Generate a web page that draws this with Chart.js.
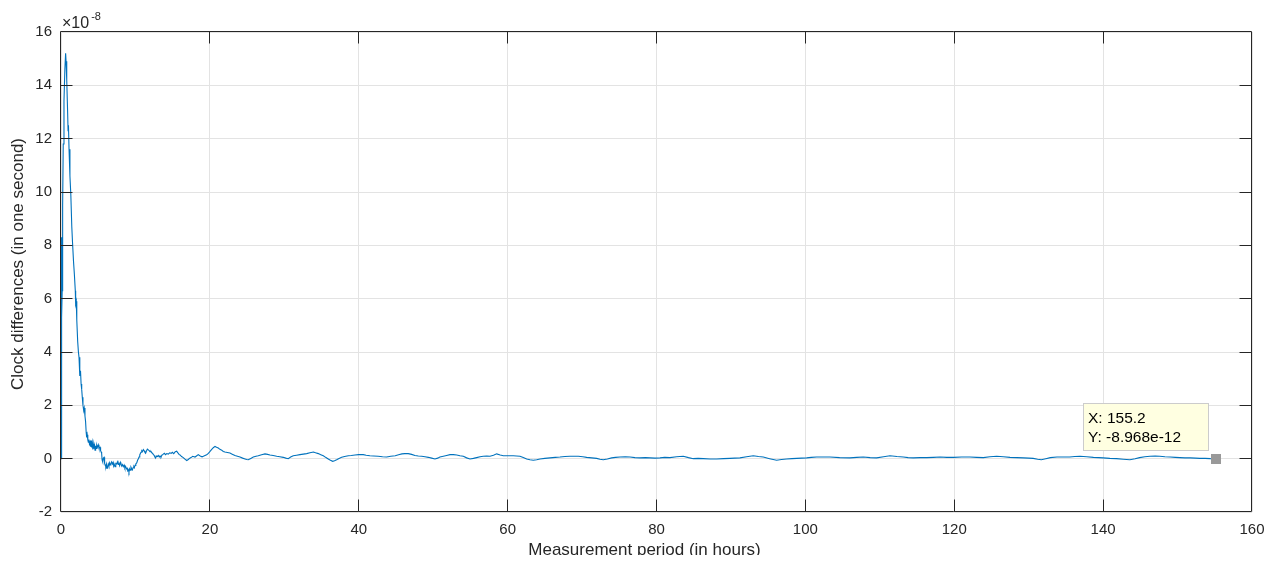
<!DOCTYPE html>
<html>
<head>
<meta charset="utf-8">
<title>Clock differences</title>
<script src="https://cdn.jsdelivr.net/npm/chart.js@4.4.1/dist/chart.umd.min.js"></script>
<style>
  html, body { margin: 0; padding: 0; background: #ffffff; }
  #wrap { width: 1280px; height: 555px; overflow: hidden; position: relative; background: #ffffff; }
  canvas { display: block; }
</style>
</head>
<body>
<div id="wrap"><canvas id="chart" width="1280" height="565"></canvas></div>
<script>
// Measurement time in hours
const hours = [
  0, 0.04, 0.08, 0.12, 0.16, 0.22, 0.3, 0.4, 0.52, 0.62, 0.68, 0.74, 0.8, 0.88, 0.95, 1.0, 1.08, 1.2, 1.32, 1.45,
  1.55, 1.68, 1.8, 1.92, 1.97, 2.05, 2.12, 2.24, 2.34, 2.42, 2.5, 2.55, 2.62, 2.7, 2.78, 2.86, 2.95, 3.05, 3.12, 3.22,
  3.3, 3.38, 3.45, 3.52, 3.6, 3.67, 3.75, 3.82, 3.9, 3.97, 4.05, 4.12, 4.2, 4.28, 4.34, 4.42, 4.5, 4.57, 4.65, 4.72,
  4.8, 4.88, 5.01, 5.1, 5.24, 5.32, 5.4, 5.46, 5.52, 5.6, 5.68, 5.78, 5.86, 5.94, 6.02, 6.1, 6.18, 6.27, 6.35, 6.44,
  6.52, 6.6, 6.7, 6.8, 6.9, 7.0, 7.08, 7.16, 7.26, 7.36, 7.48, 7.58, 7.68, 7.79, 7.88, 7.98, 8.06, 8.16, 8.26, 8.37,
  8.48, 8.58, 8.69, 8.8, 8.9, 8.96, 9.05, 9.13, 9.22, 9.3, 9.4, 9.5, 9.58, 9.68, 9.78, 9.85, 9.95, 10.05, 10.17, 10.3,
  10.4, 10.48, 10.58, 10.68, 10.75, 10.85, 10.95, 11.06, 11.16, 11.28, 11.38, 11.5, 11.6, 11.73, 11.85, 11.96, 12.09, 12.2, 12.3, 12.4,
  12.52, 12.62, 12.72, 12.84, 12.96, 13.07, 13.2, 13.3, 13.43, 13.55, 13.7, 13.88, 14.05, 14.2, 14.41, 14.6, 14.8, 14.95, 15.15, 15.35,
  15.54, 15.7, 15.85, 15.99, 16.2, 16.43, 16.65, 16.89, 17.1, 17.3, 17.46, 17.7, 18.0, 18.2, 18.44, 18.7, 18.95, 19.12, 19.35, 19.57,
  19.8, 20.02, 20.25, 20.46, 20.69, 20.9, 21.13, 21.35, 21.59, 21.8, 22.03, 22.35, 22.7, 23.0, 23.37, 23.7, 24.05, 24.4, 24.72, 24.95,
  25.16, 25.5, 25.83, 26.2, 26.5, 26.95, 27.4, 27.75, 28.08, 28.5, 28.98, 29.4, 29.86, 30.2, 30.53, 30.85, 31.2, 31.65, 32.1, 32.55,
  33.0, 33.45, 33.9, 34.2, 34.57, 34.9, 35.24, 35.55, 35.9, 36.2, 36.5, 36.75, 37.03, 37.35, 37.7, 38.1, 38.6, 39.0, 39.5, 40.0,
  40.6, 41.0, 41.5, 42.0, 42.6, 43.2, 43.75, 44.3, 44.9, 45.35, 45.8, 46.2, 46.65, 47.1, 47.55, 48.0, 48.45, 48.9, 49.35, 49.8,
  50.24, 50.6, 50.9, 51.36, 51.8, 52.26, 52.7, 53.16, 53.6, 54.05, 54.5, 54.94, 55.4, 55.84, 56.3, 56.73, 57.2, 57.63, 58.1, 58.53,
  59.0, 59.42, 60.1, 60.76, 61.2, 61.66, 62.1, 62.56, 63.0, 63.45, 63.9, 64.35, 65.0, 65.69, 66.4, 67.03, 67.7, 68.38, 69.0, 69.5,
  70.1, 70.62, 71.3, 71.96, 72.4, 72.85, 73.4, 73.98, 74.5, 75.1, 75.8, 76.44, 77.1, 77.78, 78.5, 79.13, 79.8, 80.47, 81.1, 81.81,
  82.7, 83.6, 84.3, 84.94, 85.6, 86.28, 87.2, 88.08, 89.0, 89.87, 90.5, 91.21, 92.1, 93.0, 93.7, 94.34, 95.2, 96.14, 96.8, 97.48,
  98.2, 98.83, 99.5, 100.17, 100.8, 101.51, 102.4, 103.3, 104.6, 105.99, 106.9, 107.78, 108.7, 109.57, 110.5, 111.37, 112.3, 113.16, 113.8, 114.5,
  115.4, 116.3, 117.2, 118.1, 119.0, 119.9, 121.0, 122.1, 123.0, 123.9, 124.8, 125.7, 126.6, 127.5, 128.4, 129.3, 130.0, 130.6, 131.2, 131.7,
  132.3, 132.9, 133.8, 134.7, 135.5, 136.2, 136.9, 137.8, 138.7, 139.4, 140.0, 140.9, 141.8, 142.7, 143.6, 144.3, 144.9, 145.6, 146.3, 147.0,
  147.6, 148.3, 149.0, 149.7, 150.3, 151.0, 151.7, 152.4, 153.0, 153.7, 154.4, 155.2
];

// Clock difference accumulated in one second, in units of 1e-8 s
const clockDiff = [
  0, 2.6, 8.3, 5.3, 6.3, 9.5, 11.8, 13.4, 14.6, 15.2, 14.9, 14.3, 14.2, 13.1, 12.3, 12.5, 11.6, 10.6, 9.9, 8.7,
  8.1, 7.4, 6.9, 6.3, 5.8, 5.9, 5.2, 4.4, 4.0, 3.8, 3.4, 3.1, 3.3, 2.8, 2.6, 2.3, 2.0, 1.8, 1.9, 1.6,
  1.4, 1.0, 0.8, 0.9, 0.7, 0.62, 0.72, 0.55, 0.62, 0.45, 0.68, 0.42, 0.6, 0.35, 0.55, 0.38, 0.5, 0.32, 0.48, 0.38,
  0.5, 0.42, 0.52, 0.4, 0.43, 0.3, 0.25, 0.2, -0.05, -0.12, 0.02, 0.05, -0.18, -0.25, -0.3, -0.2, -0.36, -0.3, -0.2, -0.28,
  -0.16, -0.24, -0.18, -0.12, -0.2, -0.14, -0.27, -0.22, -0.3, -0.18, -0.2, -0.12, -0.22, -0.18, -0.26, -0.14, -0.2, -0.28, -0.22, -0.3,
  -0.24, -0.35, -0.3, -0.38, -0.36, -0.45, -0.42, -0.5, -0.38, -0.43, -0.32, -0.38, -0.42, -0.34, -0.3, -0.34, -0.25, -0.2, -0.16, -0.05,
  0.0, 0.06, 0.14, 0.2, 0.24, 0.3, 0.27, 0.34, 0.3, 0.24, 0.21, 0.3, 0.36, 0.33, 0.3, 0.26, 0.27, 0.22, 0.2, 0.16,
  0.12, 0.06, 0.03, 0.1, 0.08, 0.12, 0.06, 0.1, 0.06, 0.13, 0.16, 0.2, 0.15, 0.19, 0.17, 0.22, 0.2, 0.24, 0.19, 0.26,
  0.28, 0.22, 0.16, 0.14, 0.08, 0.04, -0.02, -0.07, -0.03, 0.02, 0.04, 0.09, 0.06, 0.1, 0.15, 0.1, 0.07, 0.09, 0.12, 0.15,
  0.2, 0.27, 0.35, 0.41, 0.46, 0.43, 0.4, 0.35, 0.32, 0.27, 0.25, 0.23, 0.21, 0.17, 0.12, 0.09, 0.06, 0.02, -0.01, -0.03,
  -0.04, 0.01, 0.06, 0.09, 0.11, 0.15, 0.18, 0.16, 0.14, 0.12, 0.09, 0.07, 0.05, 0.02, 0.0, 0.06, 0.11, 0.13, 0.15, 0.17,
  0.19, 0.22, 0.25, 0.22, 0.19, 0.15, 0.11, 0.05, -0.01, -0.06, -0.1, -0.08, -0.04, 0.01, 0.05, 0.08, 0.11, 0.12, 0.14, 0.15,
  0.15, 0.13, 0.11, 0.1, 0.09, 0.07, 0.06, 0.09, 0.11, 0.15, 0.18, 0.19, 0.19, 0.16, 0.12, 0.1, 0.09, 0.07, 0.05, 0.02,
  -0.01, 0.02, 0.06, 0.09, 0.12, 0.15, 0.15, 0.14, 0.11, 0.09, 0.03, -0.01, 0.01, 0.04, 0.07, 0.09, 0.1, 0.09, 0.13, 0.18,
  0.14, 0.11, 0.11, 0.11, 0.1, 0.09, 0.04, -0.01, -0.04, -0.06, -0.04, -0.01, 0.01, 0.03, 0.05, 0.06, 0.08, 0.09, 0.09, 0.09,
  0.07, 0.05, 0.03, 0.01, -0.02, -0.04, -0.01, 0.03, 0.05, 0.06, 0.07, 0.06, 0.04, 0.03, 0.04, 0.03, 0.02, 0.03, 0.05, 0.04,
  0.07, 0.09, 0.04, 0.0, 0.01, 0.0, -0.01, -0.01, 0.0, 0.01, 0.02, 0.03, 0.07, 0.11, 0.08, 0.06, 0.0, -0.06, -0.03, -0.01,
  0.0, 0.01, 0.02, 0.03, 0.05, 0.06, 0.06, 0.06, 0.04, 0.03, 0.05, 0.06, 0.04, 0.03, 0.07, 0.11, 0.08, 0.06, 0.04, 0.03,
  0.04, 0.04, 0.05, 0.06, 0.05, 0.05, 0.06, 0.06, 0.05, 0.04, 0.07, 0.09, 0.07, 0.05, 0.04, 0.03, 0.02, 0.01, -0.02, -0.04,
  0.0, 0.04, 0.06, 0.06, 0.06, 0.08, 0.09, 0.07, 0.05, 0.04, 0.03, 0.01, 0.0, -0.02, -0.04, 0.0, 0.04, 0.07, 0.09, 0.1,
  0.09, 0.07, 0.06, 0.05, 0.04, 0.03, 0.03, 0.02, 0.01, 0.01, 0.0, -0.0008968
];

// Axis tick values and labels
const xTicks = [0, 20, 40, 60, 80, 100, 120, 140, 160];
const yTicks = [-2, 0, 2, 4, 6, 8, 10, 12, 14, 16];
const yExponent = -8;
const xLabel = 'Measurement period (in hours)';
const yLabel = 'Clock differences (in one second)';

const FONT = '"Liberation Sans", Arial, Helvetica, sans-serif';
const INK = '#262626';
const LINE_BLUE = '#0072bd';
const GRID = '#e3e3e3';
const TICK_LEN = 12;

const points = hours.map((h, i) => ({ x: h, y: clockDiff[i] }));

// Half-pixel alignment matching the library's own grid lines
const crisp = p => Math.round(p - 0.5) + 0.5;
const edge = p => Math.round(p) - 0.5;

const axesFrame = {
  id: 'axesFrame',
  afterDatasetsDraw(chart) {
    const { ctx, chartArea: a, scales: { x, y } } = chart;
    const L = edge(a.left), R = edge(a.right), T = edge(a.top), B = edge(a.bottom);
    ctx.save();
    ctx.strokeStyle = INK;
    ctx.lineWidth = 1;
    ctx.beginPath();
    ctx.rect(L, T, R - L, B - T);
    xTicks.slice(1, -1).forEach(v => {
      const p = crisp(x.getPixelForValue(v));
      ctx.moveTo(p, B); ctx.lineTo(p, B - TICK_LEN);
      ctx.moveTo(p, T); ctx.lineTo(p, T + TICK_LEN);
    });
    yTicks.slice(1, -1).forEach(v => {
      const p = crisp(y.getPixelForValue(v));
      ctx.moveTo(L, p); ctx.lineTo(L + TICK_LEN, p);
      ctx.moveTo(R, p); ctx.lineTo(R - TICK_LEN, p);
    });
    ctx.stroke();
    ctx.restore();
  },
  afterDraw(chart) {
    const { ctx, chartArea: a, scales: { x, y } } = chart;
    ctx.save();
    ctx.fillStyle = INK;

    // Exponent of the y axis
    ctx.textAlign = 'left';
    ctx.textBaseline = 'alphabetic';
    ctx.font = '16px ' + FONT;
    ctx.fillText('\u00d710', a.left + 1, a.top - 4);
    const w = ctx.measureText('\u00d710').width;
    ctx.font = '11px ' + FONT;
    ctx.fillText(String(yExponent), a.left + 3 + w, a.top - 12);

    // Axis titles
    ctx.font = '17px ' + FONT;
    ctx.textAlign = 'center';
    ctx.fillText(xLabel, (a.left + a.right) / 2 - 12, 555);
    ctx.save();
    ctx.translate(18, (a.top + a.bottom) / 2 - 8);
    ctx.rotate(-Math.PI / 2);
    ctx.textBaseline = 'middle';
    ctx.fillText(yLabel, 0, 0);
    ctx.restore();

    // Data tip on the last sample
    const i = hours.length - 1;
    const mx = x.getPixelForValue(hours[i]);
    const my = y.getPixelForValue(clockDiff[i]);
    const bw = 126, bh = 48;
    const bx = Math.round(mx) - 7 - bw, by = Math.round(my) - 8 - bh;
    ctx.fillStyle = '#ffffe1';
    ctx.strokeStyle = '#cccccc';
    ctx.lineWidth = 1;
    ctx.fillRect(bx, by, bw, bh);
    ctx.strokeRect(bx + 0.5, by + 0.5, bw - 1, bh - 1);
    ctx.fillStyle = '#000000';
    ctx.font = '15.5px ' + FONT;
    ctx.textAlign = 'left';
    ctx.textBaseline = 'alphabetic';
    ctx.fillText('X: ' + hours[i].toFixed(1), bx + 5, by + 20);
    ctx.fillText('Y: ' + (clockDiff[i] * Math.pow(10, yExponent)).toExponential(3), bx + 5, by + 39);
    ctx.fillStyle = '#999999';
    ctx.fillRect(Math.round(mx) - 5, Math.round(my) - 5, 10, 10);
    ctx.restore();
  }
};

new Chart(document.getElementById('chart'), {
  type: 'line',
  data: {
    datasets: [{
      data: points,
      borderColor: LINE_BLUE,
      borderWidth: 1.1,
      pointRadius: 0,
      tension: 0,
      fill: false
    }]
  },
  options: {
    responsive: false,
    animation: false,
    events: [],
    layout: { padding: { top: 32, right: 28, left: 0, bottom: 0 } },
    plugins: { legend: { display: false }, tooltip: { enabled: false } },
    scales: {
      x: {
        type: 'linear',
        min: xTicks[0],
        max: xTicks[xTicks.length - 1],
        afterBuildTicks: s => { s.ticks = xTicks.map(v => ({ value: v })); },
        afterFit: s => { s.height = 53; },
        grid: { color: GRID, lineWidth: 1, drawTicks: false },
        border: { display: false },
        ticks: { color: INK, padding: 9, maxRotation: 0, font: { family: FONT, size: 15 } },
        title: { display: false }
      },
      y: {
        type: 'linear',
        min: yTicks[0],
        max: yTicks[yTicks.length - 1],
        afterBuildTicks: s => { s.ticks = yTicks.map(v => ({ value: v })); },
        afterFit: s => { s.width = 61; },
        grid: { color: GRID, lineWidth: 1, drawTicks: false },
        border: { display: false },
        ticks: { color: INK, padding: 9, font: { family: FONT, size: 15 } },
        title: { display: false }
      }
    }
  },
  plugins: [axesFrame]
});
</script>
</body>
</html>
